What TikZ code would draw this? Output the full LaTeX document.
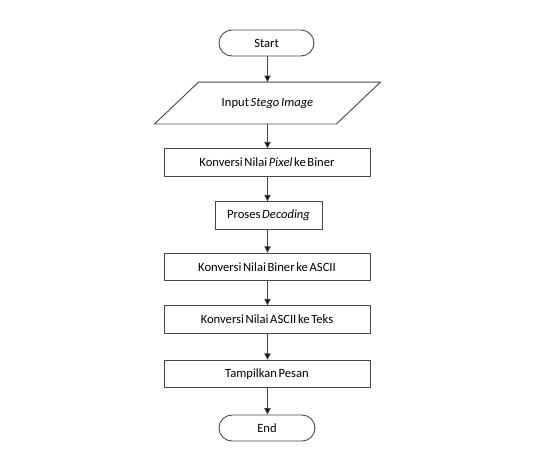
\documentclass[tikz,border=0pt]{standalone}
\usepackage{fontspec}
\setmainfont{Carlito}[WordSpace=0.6]
\usetikzlibrary{arrows.meta}
\definecolor{linegray}{HTML}{484848}
\tikzset{
  x=1pt, y=-1pt,
  base/.style={draw=linegray, line width=0.9pt, font=\fontsize{12.6}{14}\selectfont, inner sep=0pt, align=center},
  term/.style={base, minimum width=95pt, minimum height=26pt, rounded corners=13pt},
  procbox/.style={base, minimum height=27.5pt},
  io/.style={base, draw=none, minimum width=225pt, minimum height=41pt},
  flow/.style={draw=linegray, line width=0.9pt, -{Triangle[length=6.5pt, width=6.5pt, fill=black]}}
}
\begin{document}
\begin{tikzpicture}
\useasboundingbox (0,0) rectangle (534,469);
\node[term] (start) at (266.5,43) {Start};
\node[io] (in) at (267.5,103) {Input \textit{Stego Image}};
\draw[draw=linegray, line width=0.9pt]
  ([xshift=44pt]in.north west) -- (in.north east) -- ([xshift=-44pt]in.south east) -- (in.south west) -- cycle;
\node[procbox, minimum width=206pt] (b1) at (267,162.5) {Konversi Nilai \textit{Pixel} ke Biner};
\node[procbox, minimum width=107pt] (dec) at (268.5,215.5) {Proses \textit{Decoding}};
\node[procbox, minimum width=206pt] (b3) at (267,267) {Konversi Nilai Biner ke ASCII};
\node[procbox, minimum width=206pt] (b4) at (267,319.5) {Konversi Nilai ASCII ke Teks};
\node[procbox, minimum width=206pt] (b5) at (267,374) {Tampilkan Pesan};
\node[term, minimum width=96pt] (end) at (267,428) {End};
\draw[flow] (start.south -| 267.5,0) -- (in.north -| 267.5,0);
\draw[flow] (in.south -| 267.5,0) -- (b1.north -| 267.5,0);
\draw[flow] (b1.south -| 267.5,0) -- (dec.north -| 267.5,0);
\draw[flow] (dec.south -| 267.5,0) -- (b3.north -| 267.5,0);
\draw[flow] (b3.south -| 267.5,0) -- (b4.north -| 267.5,0);
\draw[flow] (b4.south -| 267.5,0) -- (b5.north -| 267.5,0);
\draw[flow] (b5.south -| 267.5,0) -- (end.north -| 267.5,0);
\end{tikzpicture}
\end{document}
